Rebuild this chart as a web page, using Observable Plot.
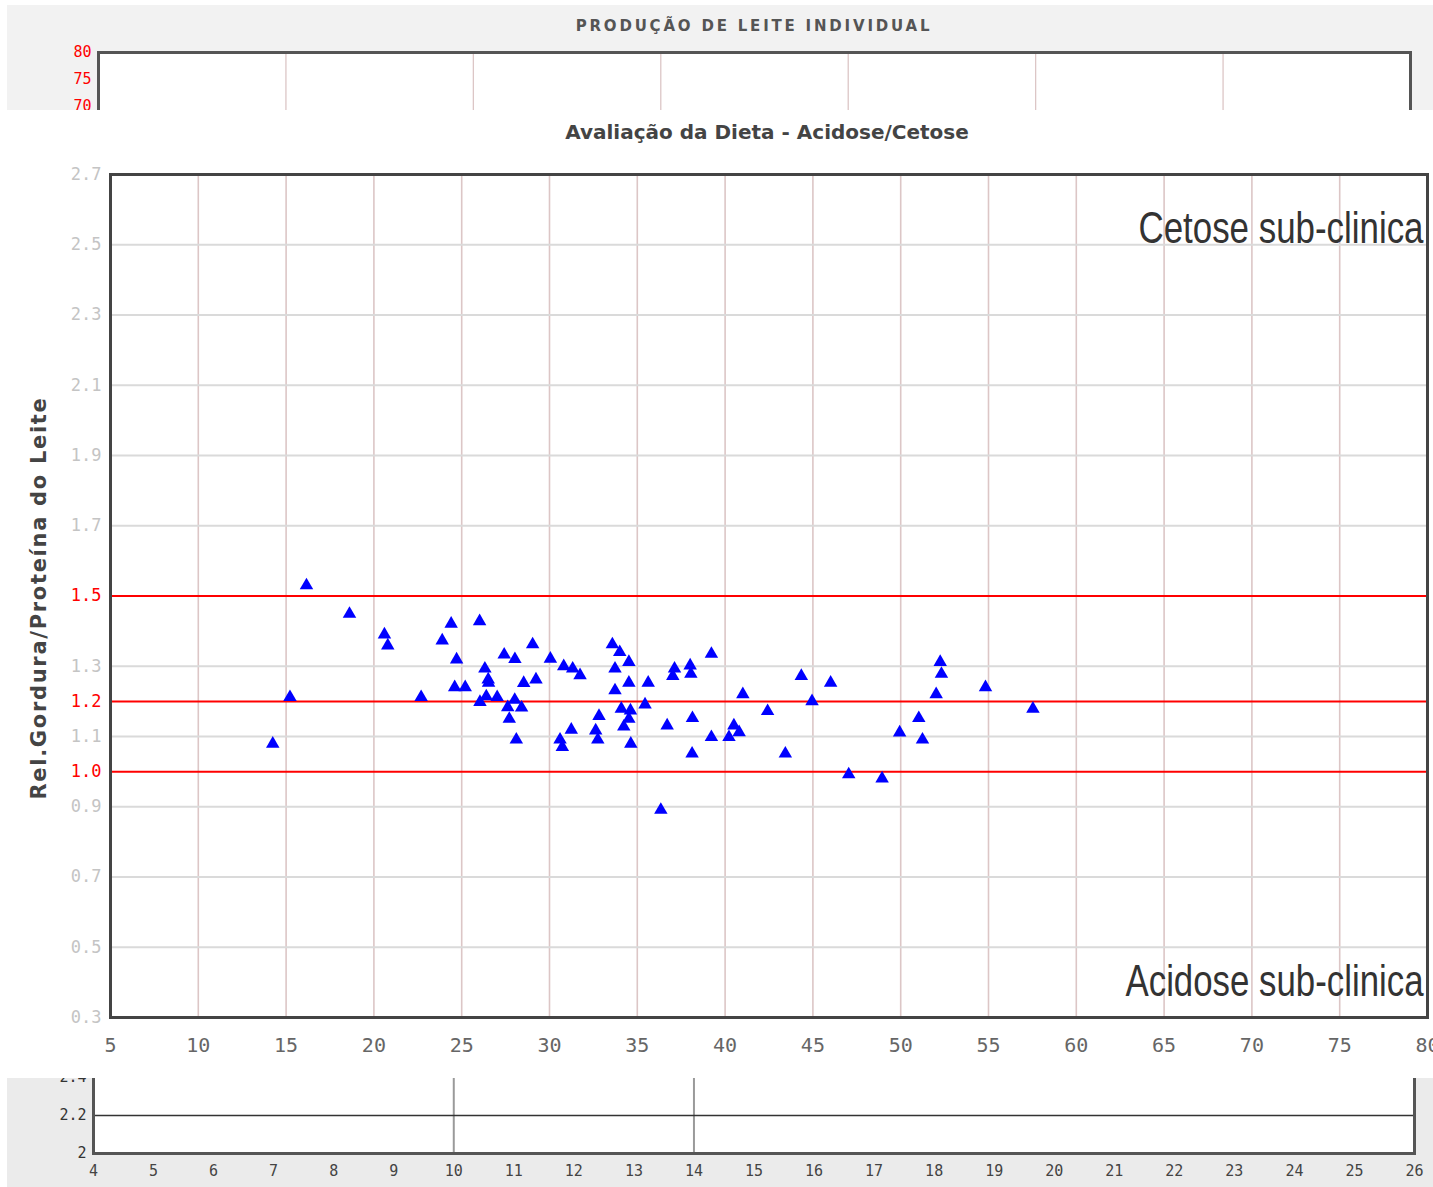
<!DOCTYPE html>
<html>
<head>
<meta charset="utf-8">
<script src="https://cdn.jsdelivr.net/npm/d3@7"></script>
<script src="https://cdn.jsdelivr.net/npm/@observablehq/plot@0.6"></script>
<style>
  html, body { margin: 0; padding: 0; background: #fff; }
  #page { position: relative; width: 1433px; height: 1187px; overflow: hidden; background: #fff; }
  .panel { position: absolute; left: 7px; width: 1426px; overflow: hidden; }
  .panel > .svgwrap { position: absolute; left: 0; }
  .title { position: absolute; left: 0; width: 100%; text-align: center; box-sizing: border-box; }
  #ytitle { position: absolute; left: 20px; top: 488px; width: 440px; margin-left: -220px; text-align: center;
            transform: rotate(-90deg); transform-origin: 220px 0; font: bold 21px 'DejaVu Sans'; letter-spacing: 1.7px; color: #444; white-space: nowrap; }
</style>
</head>
<body>
<div id="page">
  <div class="panel" id="top" style="top:5px;height:105px;background:#f2f2f2;">
    <div class="title" style="top:12px;font:bold 15px 'DejaVu Sans';letter-spacing:2.8px;color:#555;padding-left:68px;">PRODUÇÃO DE LEITE INDIVIDUAL</div>
    <div class="svgwrap" id="topPlot" style="top:27px;"></div>
  </div>
  <div class="panel" id="main" style="top:110px;height:968px;background:#fff;">
    <div class="title" style="top:10px;font:bold 20px 'DejaVu Sans';color:#444;padding-left:94px;">Avaliação da Dieta - Acidose/Cetose</div>
    <div class="svgwrap" id="mainPlot" style="top:40px;"></div>
    <div id="ytitle">Rel.Gordura/Proteína do Leite</div>
  </div>
  <div class="panel" id="bottom" style="top:1078px;height:109px;background:#ebebeb;">
    <div class="svgwrap" id="bottomPlot" style="top:-125px;"></div>
  </div>
</div>
<script>
// ---------- Main chart data: Rel. Gordura/Proteína vs produção ----------
const milkX = [16.16,18.61,20.60,20.79,15.22,14.24,22.69,23.89,24.40,26.02,
               24.71,24.60,25.20,26.32,26.51,26.53,26.04,26.40,27.02,27.42,
               28.03,29.04,28.53,29.23,28.02,27.62,28.41,27.71,28.11,30.05,
               30.81,31.32,31.74,33.58,34.00,34.52,33.73,34.52,33.73,35.62,
               39.22,37.12,37.02,38.01,38.05,35.44,34.09,34.61,34.52,34.23,
               32.82,31.24,32.63,32.75,30.60,30.73,34.63,36.70,38.14,38.12,
               36.34,39.22,40.22,40.50,40.80,41.01,42.42,43.43,44.34,44.95,
               46.01,47.04,48.94,49.94,51.03,51.24,52.02,52.25,52.32,54.83,
               57.53];
const ratioY = [1.530,1.449,1.390,1.359,1.212,1.079,1.212,1.373,1.421,1.428,
                1.319,1.240,1.240,1.293,1.262,1.253,1.198,1.214,1.212,1.333,
                1.320,1.362,1.252,1.262,1.204,1.183,1.182,1.150,1.091,1.321,
                1.300,1.293,1.274,1.362,1.340,1.312,1.293,1.253,1.231,1.253,
                1.335,1.293,1.272,1.302,1.278,1.191,1.179,1.174,1.150,1.128,
                1.158,1.119,1.117,1.091,1.091,1.070,1.079,1.131,1.152,1.051,
                0.891,1.098,1.098,1.131,1.112,1.220,1.172,1.051,1.272,1.200,
                1.253,0.992,0.980,1.111,1.152,1.091,1.220,1.312,1.278,1.240,
                1.179];
const xTicks = [5,10,15,20,25,30,35,40,45,50,55,60,65,70,75,80];
const yTicks = [2.7,2.5,2.3,2.1,1.9,1.7,1.5,1.3,1.2,1.1,1.0,0.9,0.7,0.5,0.3];
const refLines = [1.5,1.2,1.0];
const zoneLabels = ["Cetose sub-clinica","Acidose sub-clinica"];
const zoneY = [2.5,0.355];

// ---------- Top fragment (Produção de leite individual) ----------
const topYTicks = [80,75,70];
const topXGrid = [1,2,3,4,5,6];

// ---------- Bottom fragment ----------
const botXTicks = d3.range(4,27);
const botYTicks = [2,2.2,2.4];
const botHLines = [2.2];
const botVLines = [10,14];

const points = milkX.map((x,i)=>({x, y: ratioY[i]}));
const fmt = d3.format(".1f");
const mono = "'DejaVu Sans Mono', monospace";

// Main chart
const grayTicks = yTicks.filter(d => !refLines.includes(d));
const mainPlot = Plot.plot({
  width: 1426, height: 928,
  marginLeft: 103, marginRight: 6, marginTop: 24, marginBottom: 61,
  x: {domain: [5,80], axis: null},
  y: {domain: [0.3,2.7], axis: null},
  style: {background: "transparent", overflow: "visible"},
  marks: [
    Plot.ruleX(xTicks.slice(1,-1), {stroke: "#dcc6c6", strokeWidth: 1.6}),
    Plot.ruleY(grayTicks.slice(1,-1), {stroke: "#dadada", strokeWidth: 2}),
    Plot.ruleY(refLines, {stroke: "#ff0000", strokeWidth: 2}),
    Plot.dot(points, {x: "x", y: "y", symbol: "triangle", fill: "#0000ff", r: 5}),
    Plot.text(zoneLabels, {x: () => 80, y: (d,i) => zoneY[i], text: d => d, textAnchor: "end", lineAnchor: "bottom", dx: -4, dy: -2, fontSize: 44, fontFamily: "'Liberation Sans', Arial, sans-serif", fill: "#333"}),
    Plot.frame({stroke: "#444", strokeWidth: 3}),
    Plot.text(grayTicks, {y: d => d, frameAnchor: "left", text: d => fmt(d), textAnchor: "end", lineAnchor: "middle", dx: -9, fontSize: 17, fontFamily: mono, fill: "#c4c4c4"}),
    Plot.text(refLines, {y: d => d, frameAnchor: "left", text: d => fmt(d), textAnchor: "end", lineAnchor: "middle", dx: -9, fontSize: 17, fontFamily: mono, fill: "#ff0000"}),
    Plot.text(xTicks, {x: d => d, frameAnchor: "bottom", text: d => String(d), lineAnchor: "middle", dy: 28, fontSize: 20, fontFamily: mono, fill: "#666"})
  ]
});
// condense the zone labels like the narrow font of the original
const zoneWidths = [285, 298];
d3.select(mainPlot).selectAll("text").each(function() {
  const i = zoneLabels.indexOf(this.textContent);
  if (i >= 0) { this.setAttribute("textLength", zoneWidths[i]); this.setAttribute("lengthAdjust", "spacingAndGlyphs"); }
});
document.getElementById("mainPlot").appendChild(mainPlot);

// Top fragment
const topPlot = Plot.plot({
  width: 1426, height: 482,
  marginLeft: 91, marginRight: 23, marginTop: 20, marginBottom: 30,
  x: {domain: [0,7], axis: null},
  y: {domain: [0,80], axis: null},
  style: {background: "transparent", overflow: "visible"},
  marks: [
    Plot.frame({fill: "#fff"}),
    Plot.ruleX(topXGrid, {stroke: "#dcc6c6", strokeWidth: 1.3}),
    Plot.frame({stroke: "#555", strokeWidth: 3}),
    Plot.text(topYTicks, {y: d => d, frameAnchor: "left", text: d => String(d), textAnchor: "end", lineAnchor: "middle", dx: -7, fontSize: 15, fontFamily: mono, fill: "#ff0000"})
  ]
});
document.getElementById("topPlot").appendChild(topPlot);

// Bottom fragment
const botPlot = Plot.plot({
  width: 1426, height: 234,
  marginLeft: 86, marginRight: 19, marginTop: 10, marginBottom: 34,
  x: {domain: [4,26], axis: null},
  y: {domain: [2,3], axis: null},
  style: {background: "transparent", overflow: "visible"},
  marks: [
    Plot.frame({fill: "#fff"}),
    Plot.ruleX(botVLines, {stroke: "#9a9a9a", strokeWidth: 2}),
    Plot.ruleY(botHLines, {stroke: "#333", strokeWidth: 1.5}),
    Plot.frame({stroke: "#555", strokeWidth: 3}),
    Plot.text(botYTicks, {y: d => d, frameAnchor: "left", text: d => String(d), textAnchor: "end", lineAnchor: "middle", dx: -7, fontSize: 15, fontFamily: mono, fill: "#333"}),
    Plot.text(botXTicks, {x: d => d, frameAnchor: "bottom", text: d => String(d), lineAnchor: "middle", dy: 18, fontSize: 15, fontFamily: mono, fill: "#444"})
  ]
});
document.getElementById("bottomPlot").appendChild(botPlot);
</script>
</body>
</html>
